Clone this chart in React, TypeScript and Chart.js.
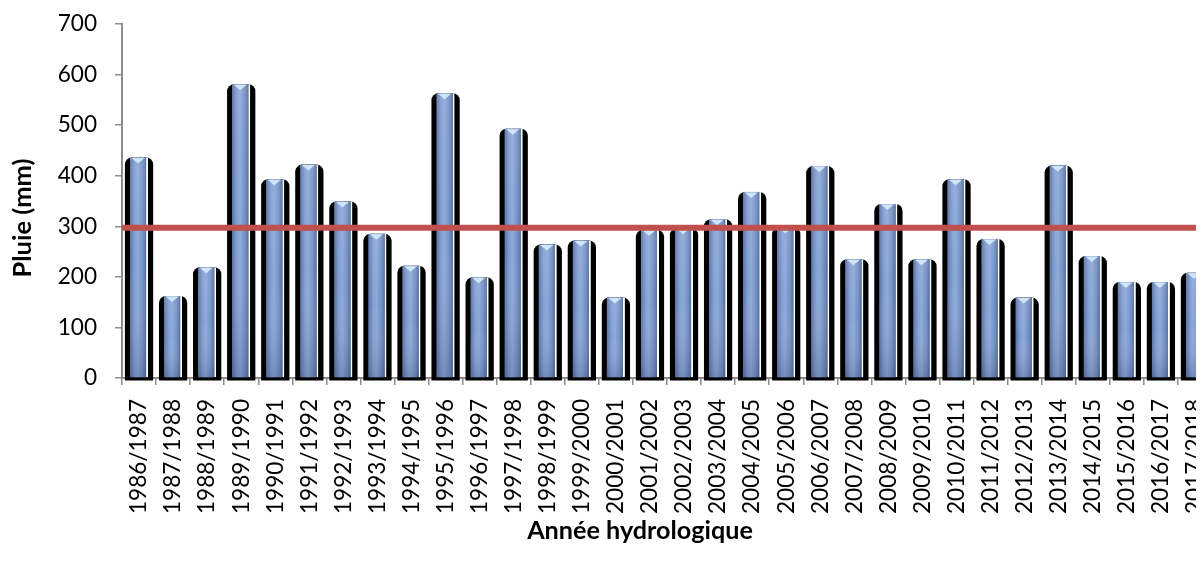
import React, { useEffect, useRef } from 'react';
import { Chart, registerables } from 'chart.js';

Chart.register(...registerables);

const categories = [
  '1986/1987', '1987/1988', '1988/1989', '1989/1990', '1990/1991', '1991/1992',
  '1992/1993', '1993/1994', '1994/1995', '1995/1996', '1996/1997', '1997/1998',
  '1998/1999', '1999/2000', '2000/2001', '2001/2002', '2002/2003', '2003/2004',
  '2004/2005', '2005/2006', '2006/2007', '2007/2008', '2008/2009', '2009/2010',
  '2010/2011', '2011/2012', '2012/2013', '2013/2014', '2014/2015', '2015/2016',
  '2016/2017', '2017/2018',
];

const rainfall = [
  436, 162, 219, 581, 393, 422,
  349, 285, 222, 563, 199, 493,
  264, 272, 159, 293, 296, 314,
  368, 298, 419, 235, 344, 235,
  393, 275, 159, 420, 241, 190,
  190, 208,
];

const meanRainfall = 297;

const yMin = 0;
const yMax = 700;
const yStep = 100;

const yTitle = 'Pluie (mm)';
const xTitle = 'Année hydrologique';

const FONT = 'Lato, "Open Sans", "Liberation Sans", sans-serif';
const AXIS_GRAY = '#8C8C8C';

function fitSize(text: string, target: number, weight: string): number {
  const c = document.createElement('canvas').getContext('2d')!;
  c.font = `${weight} 100px ${FONT}`;
  const w = c.measureText(text).width;
  return Math.round((100 * target / w) * 10) / 10;
}

export default function App() {
  const ref = useRef<HTMLCanvasElement | null>(null);

  useEffect(() => {
    const canvas = ref.current;
    if (!canvas) return;

    const tickSize = fitSize('1986/1987', 115, 'normal');
    const xTitleSize = fitSize(xTitle, 226, 'bold');
    const yTitleSize = fitSize(yTitle, 119, 'bold');

    const decor = {
      id: 'decor',
      afterDatasetDraw(chart: any, args: any) {
        if (args.index !== 0) return;
        const ctx = chart.ctx as CanvasRenderingContext2D;
        const meta = chart.getDatasetMeta(0);
        ctx.save();
        meta.data.forEach((el: any) => {
          const { x, y, base, width } = el.getProps(['x', 'y', 'base', 'width'], true);
          const left = x - width / 2;
          const right = x + width / 2 - 2;
          const h = base - y;
          const g = ctx.createLinearGradient(left, 0, right, 0);
          g.addColorStop(0, '#5A74A5');
          g.addColorStop(0.3, '#84A0D3');
          g.addColorStop(0.5, '#8DA9DB');
          g.addColorStop(0.8, '#7390C2');
          g.addColorStop(1, '#56709F');
          ctx.fillStyle = g;
          ctx.fillRect(left, y, right - left, h);
          const v = ctx.createLinearGradient(0, y, 0, base);
          v.addColorStop(0, 'rgba(255,255,255,0.08)');
          v.addColorStop(0.5, 'rgba(255,255,255,0)');
          v.addColorStop(1, 'rgba(20,35,70,0.2)');
          ctx.fillStyle = v;
          ctx.fillRect(left, y, right - left, h);
          // top bevel triangle
          ctx.beginPath();
          ctx.moveTo(left + 1.5, y + 0.5);
          ctx.lineTo(right - 1.5, y + 0.5);
          ctx.lineTo((left + right) / 2, y + 6);
          ctx.closePath();
          ctx.fillStyle = '#D2E5F8';
          ctx.fill();
        });
        ctx.restore();
      },
      afterDatasetsDraw(chart: any) {
        const { ctx, chartArea, scales } = chart;
        const yy = scales.y.getPixelForValue(meanRainfall);
        ctx.save();
        ctx.strokeStyle = '#C0504D';
        ctx.lineWidth = 6;
        ctx.beginPath();
        ctx.moveTo(chartArea.left, yy);
        ctx.lineTo(chartArea.right - 10, yy);
        ctx.stroke();
        ctx.restore();
      },
      afterDraw(chart: any) {
        const ctx = chart.ctx as CanvasRenderingContext2D;
        ctx.save();
        ctx.fillStyle = '#000';
        ctx.font = `bold ${yTitleSize}px ${FONT}`;
        ctx.textAlign = 'center';
        ctx.textBaseline = 'middle';
        ctx.translate(15, 210);
        ctx.rotate(-Math.PI / 2);
        ctx.fillText(yTitle, 0, 0);
        ctx.restore();
        ctx.save();
        ctx.fillStyle = '#000';
        ctx.font = `bold ${xTitleSize}px ${FONT}`;
        ctx.textAlign = 'center';
        ctx.textBaseline = 'middle';
        ctx.fillText(xTitle, 632, 523);
        ctx.restore();
      },
    };

    const chart = new Chart(canvas, {
      type: 'bar',
      data: {
        labels: categories,
        datasets: [
          {
            label: 'Pluie',
            data: rainfall,
            backgroundColor: '#7F9BCE',
            borderColor: '#FFFFFF',
            borderWidth: { top: 0, left: 0, bottom: 0, right: 2 },
            borderSkipped: false,
            barPercentage: 0.53,
            categoryPercentage: 1,
            grouped: false,
          } as any,
          {
            label: 'ombre',
            data: rainfall.map((v) => [-5, v]),
            backgroundColor: '#000000',
            borderWidth: 0,
            borderRadius: { topLeft: 7, topRight: 7, bottomLeft: 0, bottomRight: 0 },
            borderSkipped: false,
            barPercentage: 0.83,
            categoryPercentage: 1,
            grouped: false,
            clip: false,
          } as any,
        ],
      },
      options: {
        animation: false,
        responsive: true,
        maintainAspectRatio: false,
        layout: { padding: { left: 0, top: 16, right: 26, bottom: 0 } },
        plugins: {
          legend: { display: false },
          tooltip: { enabled: false },
        },
        scales: {
          x: {
            type: 'category',
            offset: true,
            z: 1,
            grid: {
              display: true,
              drawOnChartArea: false,
              drawTicks: true,
              tickLength: 7,
              color: AXIS_GRAY,
              lineWidth: 1.5,
              offset: true,
            },
            border: { display: true, color: AXIS_GRAY, width: 2 },
            ticks: {
              autoSkip: false,
              minRotation: 90,
              maxRotation: 90,
              padding: 14,
              color: '#000',
              font: { family: FONT, size: tickSize },
            },
            afterFit: (s: any) => {
              s.height = 190;
            },
          },
          y: {
            min: yMin,
            max: yMax,
            grid: {
              drawOnChartArea: false,
              drawTicks: true,
              tickLength: 7,
              color: AXIS_GRAY,
              lineWidth: 1.5,
            },
            border: { display: true, color: AXIS_GRAY, width: 2 },
            ticks: {
              stepSize: yStep,
              padding: 18,
              color: '#000',
              font: { family: FONT, size: tickSize },
            },
            afterFit: (s: any) => {
              s.width = 114;
              s.paddingTop = 0;
              s.paddingBottom = 0;
            },
          },
        },
      } as any,
      plugins: [decor],
    });

    return () => chart.destroy();
  }, []);

  return (
    <div style={{ width: 1196, height: 560, overflow: 'hidden' }}>
      <div style={{ position: 'relative', width: 1230, height: 560 }}>
        <canvas ref={ref} />
      </div>
    </div>
  );
}
